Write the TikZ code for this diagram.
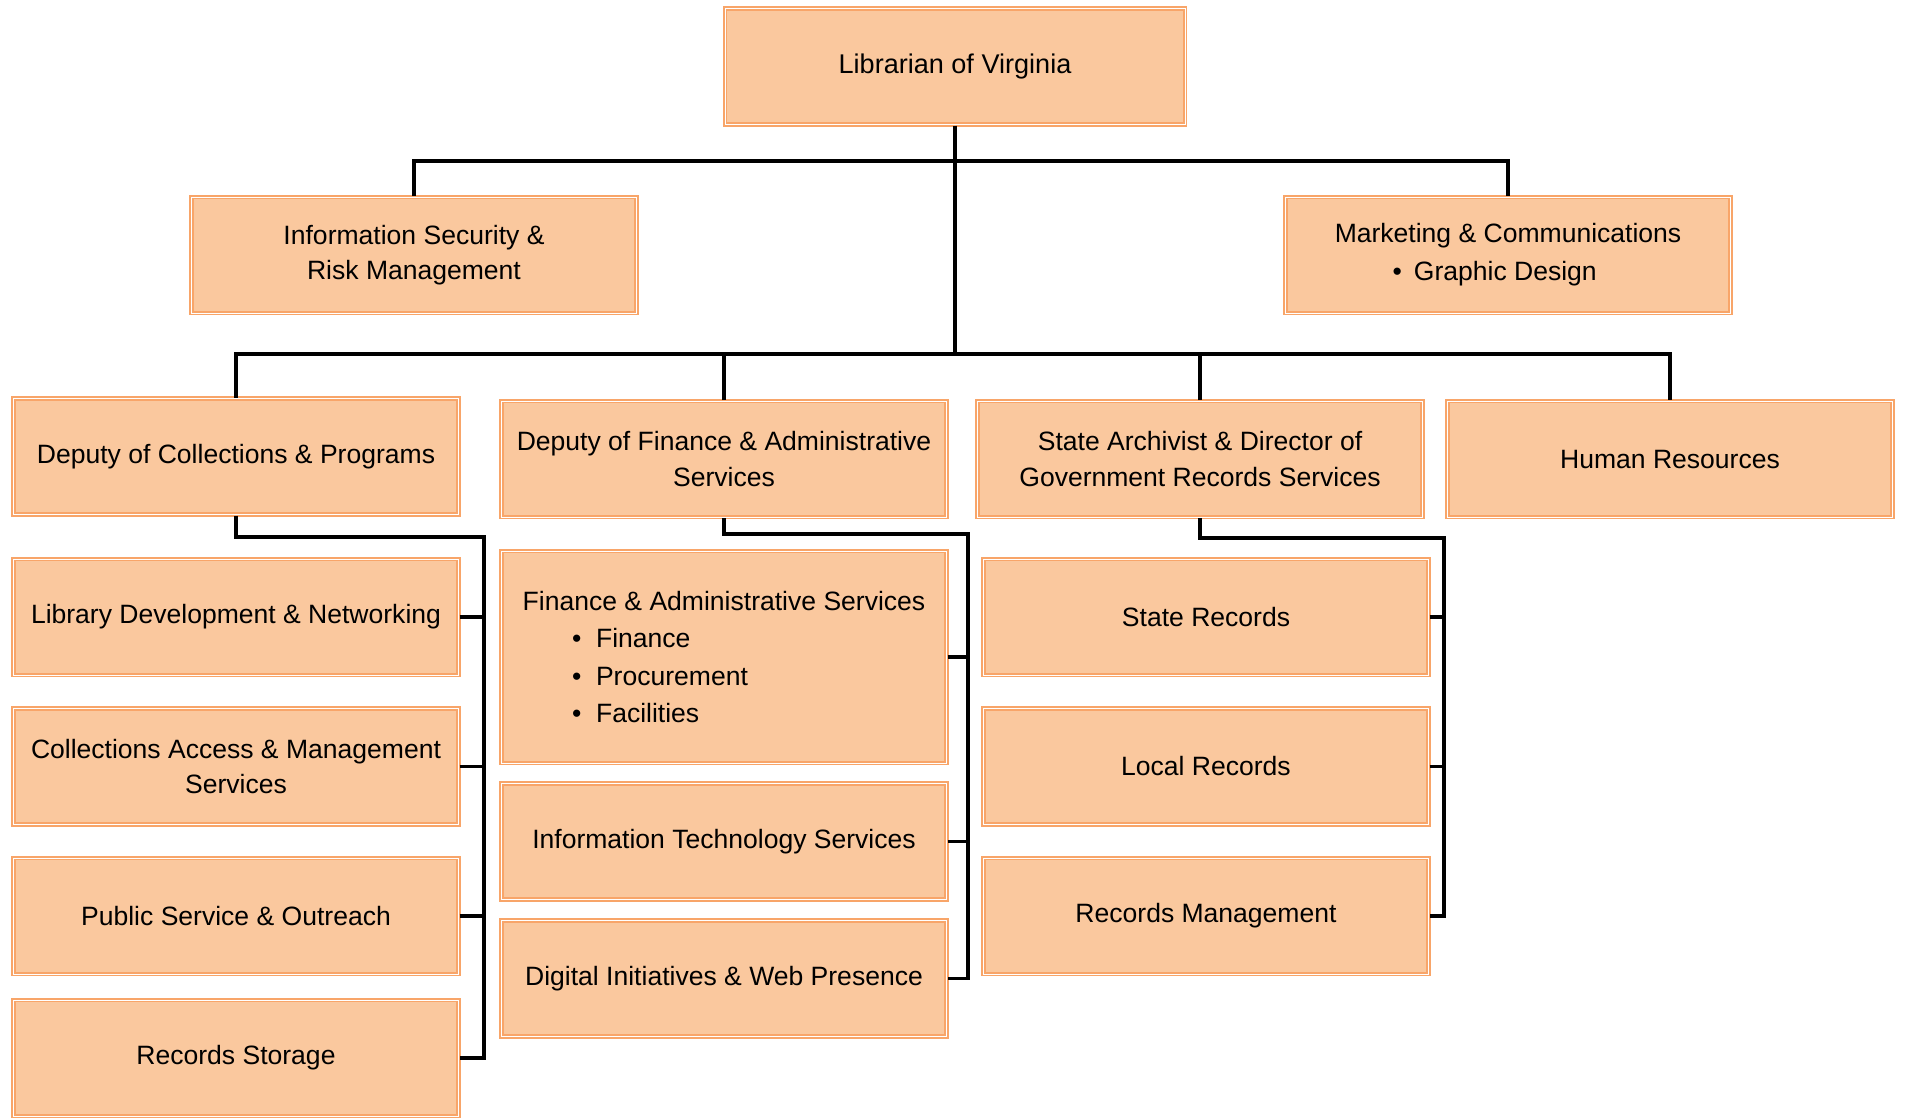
\documentclass[tikz,border=0pt]{standalone}
\usepackage{fontspec}
\setmainfont{Liberation Sans}
\begin{document}
\definecolor{boxfill}{RGB}{250,200,158}
\definecolor{boxline}{RGB}{248,165,105}
\begin{tikzpicture}[x=0.75pt,y=-0.75pt,
  box/.style={draw=boxline, line width=1.5pt, double=white, double distance=0.6pt,
    fill=boxfill, minimum width=334pt, minimum height=87pt, inner sep=0pt,
    align=center, font=\fontsize{19.9}{26.3}\selectfont},
  conn/.style={draw=black, line width=2.3pt, line join=miter}]
\useasboundingbox (0,0) rectangle (1905,1117);
% top
\node[box, minimum width=345pt, font=\fontsize{20.3}{26.3}\selectfont] (lib) at (955,66.5) {Librarian of Virginia};
\node[box] (isrm) at (414,255) {Information Security \&\\Risk Management};
\node[box, font=\fontsize{19.9}{28.5}\selectfont] (mkt) at (1508,255) {Marketing \& Communications\\\textbullet\hspace{9pt}Graphic Design\hspace*{20pt}};
% row 3
\node[box] (dcp) at (236,456.5) {Deputy of Collections \& Programs};
\node[box] (dfa) at (724,459) {Deputy of Finance \& Administrative\\Services};
\node[box] (sa) at (1200,459) {State Archivist \& Director of\\Government Records Services};
\node[box] (hr) at (1670,459) {Human Resources};
% column 1
\node[box] (ldn) at (236,617) {Library Development \& Networking};
\node[box] (cams) at (236,766.5) {Collections Access \& Management\\Services};
\node[box] (pso) at (236,916) {Public Service \& Outreach};
\node[box] (rs) at (236,1058) {Records Storage};
% column 2
\node[box, minimum height=159pt, align=left, font=\fontsize{19.9}{28.2}\selectfont] (fas) at (724,657)
  {Finance \& Administrative Services\\
   \hspace*{37pt}\makebox[18pt][l]{\textbullet}Finance\\
   \hspace*{37pt}\makebox[18pt][l]{\textbullet}Procurement\\
   \hspace*{37pt}\makebox[18pt][l]{\textbullet}Facilities};
\node[box] (its) at (724,841.5) {Information Technology Services};
\node[box] (dwp) at (724,978.5) {Digital Initiatives \& Web Presence};
% column 3
\node[box] (sr) at (1206,617) {State Records};
\node[box] (lr) at (1206,766.5) {Local Records};
\node[box] (rm) at (1206,916) {Records Management};
% bus coordinates
\coordinate (bus1) at (lib.south |- 0,161);
\coordinate (bus2) at (lib.south |- 0,354);
\coordinate (c1) at (484,537);
\coordinate (c2) at (968,534);
\coordinate (c3) at (1444,538);
% connectors
\draw[conn] (lib.south) -- (bus2);
\draw[conn] (isrm.north) |- (bus1) -| (mkt.north);
\draw[conn] (dcp.north) |- (bus2) -| (hr.north);
\draw[conn] (dfa.north) -- (dfa.north |- bus2);
\draw[conn] (sa.north) -- (sa.north |- bus2);
\draw[conn] (dcp.south) |- (c1) -- (c1 |- rs.east) -- (rs.east);
\draw[conn] (ldn.east) -- (ldn.east -| c1);
\draw[conn] (cams.east) -- (cams.east -| c1);
\draw[conn] (pso.east) -- (pso.east -| c1);
\draw[conn] (dfa.south) |- (c2) -- (c2 |- dwp.east) -- (dwp.east);
\draw[conn] (fas.east) -- (fas.east -| c2);
\draw[conn] (its.east) -- (its.east -| c2);
\draw[conn] (sa.south) |- (c3) -- (c3 |- rm.east) -- (rm.east);
\draw[conn] (sr.east) -- (sr.east -| c3);
\draw[conn] (lr.east) -- (lr.east -| c3);
\end{tikzpicture}
\end{document}
